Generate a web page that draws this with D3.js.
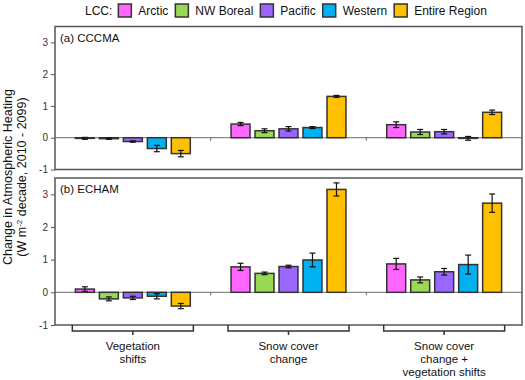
<!DOCTYPE html>
<html>
<head>
<meta charset="utf-8">
<script src="https://cdn.jsdelivr.net/npm/d3@7"></script>
<style>
  body { margin: 0; background: #fff; }
  svg { display: block; }
</style>
</head>
<body>
<div id="container"></div>
<script>
// data
const regions = ["Arctic", "NW Boreal", "Pacific", "Western", "Entire Region"];
const groups = ["Vegetation shifts", "Snow cover change", "Snow cover change + vegetation shifts"];
const groupLabels = [["Vegetation", "shifts"], ["Snow cover", "change"], ["Snow cover", "change +", "vegetation shifts"]];
const yTicks = [-1, 0, 1, 2, 3];

// (a) CCCMA
const cccmaMean = [
    [-0.02, -0.03, -0.12, -0.34, -0.50],
    [0.43, 0.22, 0.28, 0.32, 1.30],
    [0.41, 0.18, 0.19, -0.02, 0.80]];
const cccmaErr = [
    [0.03, 0.02, 0.02, 0.10, 0.10],
    [0.05, 0.06, 0.07, 0.03, 0.03],
    [0.09, 0.08, 0.07, 0.06, 0.07]];

// (b) ECHAM
const echamMean = [
    [0.10, -0.20, -0.17, -0.12, -0.42],
    [0.78, 0.58, 0.79, 0.99, 3.15],
    [0.87, 0.38, 0.63, 0.85, 2.73]];
const echamErr = [
    [0.07, 0.06, 0.05, 0.08, 0.08],
    [0.11, 0.04, 0.04, 0.21, 0.20],
    [0.17, 0.09, 0.10, 0.29, 0.28]];

const panels = [
    {label: "(a) CCCMA", mean: cccmaMean, err: cccmaErr, top: 26.5, bottom: 169.5},
    {label: "(b) ECHAM", mean: echamMean, err: echamErr, top: 178, bottom: 325}];

// look
const width = 525;
const height = 380;
const plotLeft = 55;
const plotRight = 522;
const fontFamily = "Arial, 'Liberation Sans', Helvetica, sans-serif";
const colors = ["#ff66ff", "#99d955", "#9966ff", "#00b0f0", "#ffc000"];
const frameColor = "#555";
const barStroke = "#333";

const svg = d3.select("#container").append("svg")
    .attr("width", width)
    .attr("height", height)
    .attr("font-family", fontFamily);

const x0 = d3.scaleBand()
    .domain(groups)
    .range([plotLeft, plotRight]);

const x1 = d3.scaleBand()
    .domain(regions)
    .range([0, x0.bandwidth()])
    .paddingInner(0.21)
    .paddingOuter(0.85);

const color = d3.scaleOrdinal().domain(regions).range(colors);

panels.forEach(p => {
    const y = d3.scaleLinear().domain([-1, 3.5]).range([p.bottom, p.top]);
    const g = svg.append("g");

    // y axis
    const yAxis = g.append("g")
        .attr("transform", `translate(${plotLeft},0)`)
        .call(d3.axisLeft(y).tickValues(yTicks).tickSize(4).tickPadding(3).tickFormat(d => String(d)));
    yAxis.select(".domain").remove();
    yAxis.selectAll("line").attr("stroke", frameColor);
    yAxis.selectAll("text").attr("font-size", 10).attr("fill", "#333").attr("font-family", fontFamily);

    // zero line
    g.append("line")
        .attr("x1", plotLeft).attr("x2", plotRight)
        .attr("y1", y(0)).attr("y2", y(0))
        .attr("stroke", "#888").attr("stroke-width", 1.2);

    // small ticks between groups on the zero line
    g.selectAll("line.gtick")
        .data(groups.slice(1))
        .join("line")
        .attr("class", "gtick")
        .attr("x1", d => x0(d)).attr("x2", d => x0(d))
        .attr("y1", y(0)).attr("y2", y(0) + 3)
        .attr("stroke", "#666");

    const data = [];
    groups.forEach((grp, gi) => regions.forEach((r, ri) => {
        data.push({group: grp, region: r, v: p.mean[gi][ri], e: p.err[gi][ri]});
    }));

    g.selectAll("rect.bar")
        .data(data)
        .join("rect")
        .attr("class", "bar")
        .attr("x", d => x0(d.group) + x1(d.region))
        .attr("width", x1.bandwidth())
        .attr("y", d => y(Math.max(0, d.v)))
        .attr("height", d => Math.abs(y(d.v) - y(0)))
        .attr("fill", d => color(d.region))
        .attr("stroke", barStroke)
        .attr("stroke-width", 1.5);

    // error bars
    const eb = g.selectAll("g.err")
        .data(data)
        .join("g")
        .attr("class", "err")
        .attr("transform", d => `translate(${x0(d.group) + x1(d.region) + x1.bandwidth() / 2},0)`)
        .attr("stroke", "#111")
        .attr("stroke-width", 1.2);
    eb.append("line").attr("y1", d => y(d.v - d.e)).attr("y2", d => y(d.v + d.e));
    eb.append("line").attr("x1", -3).attr("x2", 3).attr("y1", d => y(d.v - d.e)).attr("y2", d => y(d.v - d.e));
    eb.append("line").attr("x1", -3).attr("x2", 3).attr("y1", d => y(d.v + d.e)).attr("y2", d => y(d.v + d.e));

    // frame
    g.append("rect")
        .attr("x", plotLeft).attr("y", p.top)
        .attr("width", plotRight - plotLeft).attr("height", p.bottom - p.top)
        .attr("fill", "none")
        .attr("stroke", frameColor)
        .attr("stroke-width", 1.5);

    g.append("text")
        .attr("x", plotLeft + 5)
        .attr("y", p.top + 15)
        .attr("font-size", 11.5)
        .attr("fill", "#111")
        .text(p.label);
});

// group brackets
const bracketHalf = 60.5;
const br = svg.selectAll("g.bracket")
    .data(groups)
    .join("g")
    .attr("class", "bracket")
    .attr("transform", d => `translate(${x0(d) + x0.bandwidth() / 2},0)`);

br.append("path")
    .attr("d", `M${-bracketHalf},325V331H${bracketHalf}V325M0,331V335`)
    .attr("fill", "none")
    .attr("stroke", "#333")
    .attr("stroke-width", 1.5);

br.append("text")
    .attr("text-anchor", "middle")
    .attr("font-size", 11.5)
    .attr("fill", "#111")
    .selectAll("tspan")
    .data((d, i) => groupLabels[i])
    .join("tspan")
    .attr("x", 0)
    .attr("y", (d, i) => 350 + i * 13)
    .text(d => d);

// y axis title
const yTitle = svg.append("text")
    .attr("transform", "translate(12,177) rotate(-90)")
    .attr("text-anchor", "middle")
    .attr("font-size", 12.5)
    .attr("fill", "#111");
yTitle.append("tspan").attr("x", 0).attr("y", 0).text("Change in Atmospheric Heating");
const line2 = yTitle.append("tspan").attr("x", 0).attr("y", 14);
line2.append("tspan").text("(W m");
line2.append("tspan").attr("font-size", 8).attr("baseline-shift", "super").text("-2");
line2.append("tspan").text(" decade, 2010 - 2099)");

// legend
const legend = svg.append("g").attr("font-size", 12).attr("fill", "#111");
let lx = 85;
const lcc = legend.append("text").attr("x", lx).attr("y", 15).text("LCC:");
lx += lcc.node().getComputedTextLength() + 6;
regions.forEach(r => {
    legend.append("rect")
        .attr("x", lx).attr("y", 4)
        .attr("width", 13).attr("height", 13)
        .attr("fill", color(r))
        .attr("stroke", barStroke)
        .attr("stroke-width", 1.5);
    lx += 20;
    const t = legend.append("text").attr("x", lx).attr("y", 15).text(r);
    lx += t.node().getComputedTextLength() + 7;
});
</script>
</body>
</html>
